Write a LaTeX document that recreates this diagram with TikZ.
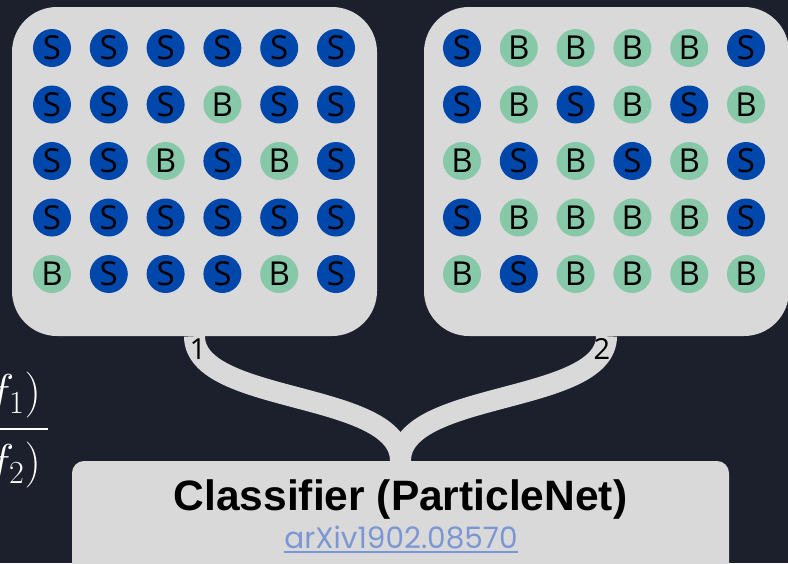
\RequirePackage{fix-cm}
\documentclass[tikz,border=0pt]{standalone}
\usepackage{amsmath}
\usepackage{fontspec}
\newfontfamily\dotfont{Open Sans}
\newfontfamily\clffont{Liberation Sans}
\newfontfamily\linkfont{Poppins}
\usetikzlibrary{positioning}
\definecolor{bgc}{HTML}{1B202C}
\definecolor{panelc}{HTML}{D9D9D9}
\definecolor{tokS}{HTML}{0047AB}
\definecolor{tokB}{HTML}{86C8A8}
\definecolor{linkc}{HTML}{7B96D4}

\begin{document}
\begin{tikzpicture}[x=1pt, y=-1pt,
    panel/.style={fill=panelc, rounded corners=45pt, minimum width=365pt, minimum height=329pt, inner sep=0pt},
    dot/.style={circle, inner sep=0pt, minimum size=38pt, font=\dotfont\fontsize{33}{33}\selectfont},
    band/.style={draw=panelc, line width=21pt},
    numlbl/.style={inner sep=0pt, font=\dotfont\fontsize{29}{29}\selectfont},
    fracpart/.style={text=white, anchor=east, inner sep=0pt, font=\fontsize{46}{52}\selectfont}]
  \useasboundingbox[fill=bgc] (0,0) rectangle (788,563);
  % the two samples
  \node[panel] (left) at (194.5,171.5) {};
  \node[panel] (right) at (606.5,171.5) {};
  \node[fill=panelc, rounded corners=12pt, minimum width=657pt, minimum height=120pt] (clf) at (400.5,521) {};
  \draw[band] (left.south) .. controls +(0,69) and +(0,-71) .. (clf.north);
  \draw[band] (right.south) .. controls +(0,69) and +(0,-71) .. (clf.north);
  \foreach \row [count=\r] in {{S,S,S,S,S,S},{S,S,S,B,S,S},{S,S,B,S,B,S},{S,S,S,S,S,S},{B,S,S,S,B,S}}
    \foreach \c [count=\k] in \row
      \node[dot, fill=tok\c] (L\r\k) at ({52+56.8*(\k-1)}, {48+56.5*(\r-1)}) {\c};
  \foreach \row [count=\r] in {{S,B,B,B,B,S},{S,B,S,B,S,B},{B,S,B,S,B,S},{S,B,B,B,B,S},{B,S,B,B,B,B}}
    \foreach \c [count=\k] in \row
      \node[dot, fill=tok\c] (R\r\k) at ({462+56.8*(\k-1)}, {48+56.5*(\r-1)}) {\c};
  \node[numlbl] (n1) at (198,349) {1};
  \node[numlbl] (n2) at (602,349) {2};
  % classifier
  \node[anchor=base, inner sep=0pt, font=\clffont\bfseries\fontsize{42.5}{42.5}\selectfont] (title) at (400.5,510) {Classifier (ParticleNet)};
  \node[anchor=base, inner sep=0pt, text=linkc, font=\linkfont\fontsize{29.5}{29.5}\selectfont] (link) at (401,548) {arXiv1902.08570};
  \draw[linkc, line width=2.5pt] ([yshift=-4pt]link.base west) -- ([yshift=-4pt]link.base east);
  % cut-off ratio on the left
  \node[fracpart] (num) at (41,395) {$f_1)$};
  \node[fracpart] (den) at (41,465) {$f_2)$};
  \draw[white, line width=2pt] (-5,429) -- (48,429);
\end{tikzpicture}
\end{document}
